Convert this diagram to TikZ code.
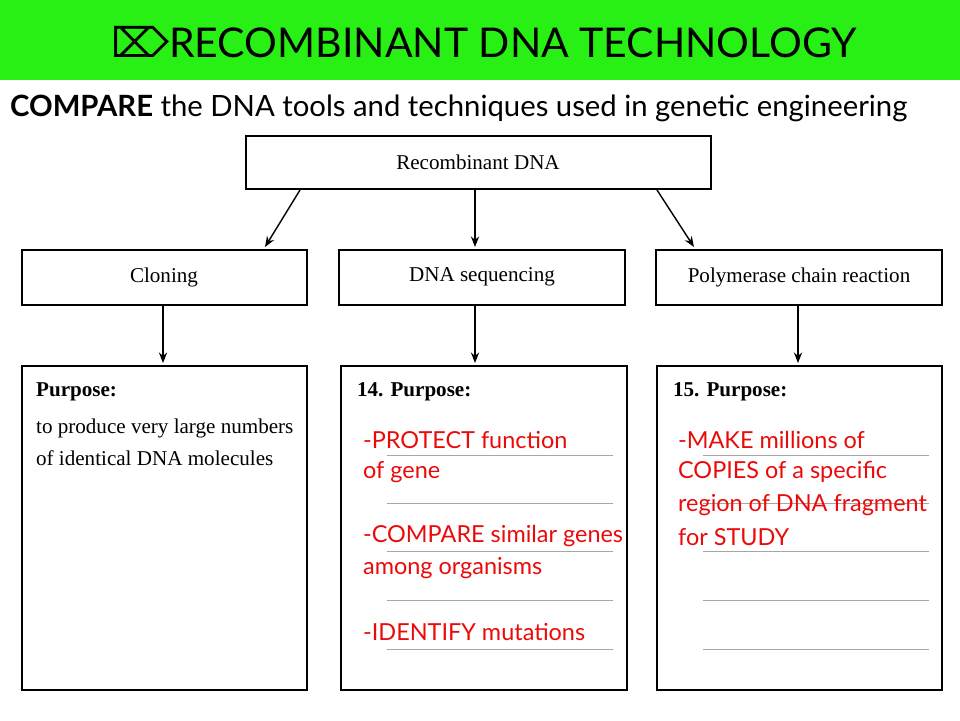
\documentclass[tikz,border=0pt]{standalone}
\usepackage{fontspec}
\setmainfont{Liberation Serif}
\newfontfamily\gill{Lato}
\newfontfamily\symb{DejaVu Sans}
\usetikzlibrary{arrows.meta,positioning}
\definecolor{titlegreen}{RGB}{40,240,20}
\definecolor{notered}{RGB}{235,10,10}
\begin{document}
\begin{tikzpicture}[x=0.03cm,y=-0.03cm,
    box/.style={draw, line width=1.6pt, inner sep=0pt},
    arrow/.style={-{Stealth[length=9pt,width=7pt]}, line width=1.2pt},
    rule/.style={gray!70, line width=0.6pt},
    lab/.style={font=\fontsize{18}{18}\selectfont},
    head/.style={anchor=west, font=\fontsize{18}{18}\selectfont\bfseries},
    body/.style={anchor=west, font=\fontsize{18}{18}\selectfont},
    note/.style={anchor=west, font=\gill\fontsize{20}{20}\selectfont, notered}
]
\useasboundingbox (0,0) rectangle (960,720);
\fill[titlegreen] (0,0) rectangle (960,80);
\node (title) at (484,42) {\gill\fontsize{35}{35}\selectfont{\symb ⌦}RECOMBINANT DNA TECHNOLOGY};
\node[anchor=west] (sub) at (6,108) {\gill\fontsize{25}{25}\selectfont\textbf{COMPARE} the DNA tools and techniques used in genetic engineering};

% top
\draw[box] (246,136) rectangle (711,189);
\node[lab] (top) at (478,162) {Recombinant DNA};
\coordinate (tl) at (300,190); \coordinate (tm) at (475,190); \coordinate (tr) at (657,190);

% middle row
\draw[box] (22,250) rectangle (307,305);
\draw[box] (339,250) rectangle (625,305);
\draw[box] (656,250) rectangle (942,305);
\node[lab] (clone) at (164,277) {Cloning};
\node[lab] (seq) at (482,277) {DNA sequencing};
\node[lab] (pcr) at (799,277) {Polymerase chain reaction};
\coordinate (cl) at (265,247); \coordinate (cm) at (475,247); \coordinate (cr) at (694,247);
\draw[arrow] (tl) -- (cl);
\draw[arrow] (tm) -- (cm);
\draw[arrow] (tr) -- (cr);

% bottom row
\draw[box] (22,366) rectangle (307,690);
\draw[box] (341,366) rectangle (627,690);
\draw[box] (657,366) rectangle (942,690);
\coordinate (c1) at (163,306); \coordinate (c2) at (475,306); \coordinate (c3) at (798,306);
\coordinate (b1) at (163,363); \coordinate (b2) at (475,363); \coordinate (b3) at (798,363);
\draw[arrow] (c1) -- (b1);
\draw[arrow] (c2) -- (b2);
\draw[arrow] (c3) -- (b3);

\foreach \y in {455,503,551,600,649} {
  \draw[rule] (387,\y) -- (613,\y);
  \draw[rule] (703,\y) -- (929,\y);
}

\node[head] (p1) at (32,392) {Purpose:};
\node[head] (p2) at (353,392) {14. Purpose:};
\node[head] (p3) at (669,392) {15. Purpose:};
\node[body] (t1) at (32,428) {to produce very large numbers};
\node[body] (t2) at (32,458) {of identical DNA molecules};

% answers
\node[note] (a1) at (359,440) {-PROTECT function};
\node[note] (a2) at (359,472) {of gene};
\node[note] (a3) at (359,536) {-COMPARE similar genes};
\node[note] (a4) at (359,568) {among organisms};
\node[note] (a5) at (359,632) {-IDENTIFY mutations};
\node[note] (m1) at (674,440) {-MAKE millions of};
\node[note] (m2) at (674,472) {COPIES of a specific};
\node[note] (m3) at (674,505) {region of DNA fragment};
\node[note] (m4) at (674,537) {for STUDY};
\end{tikzpicture}
\end{document}
